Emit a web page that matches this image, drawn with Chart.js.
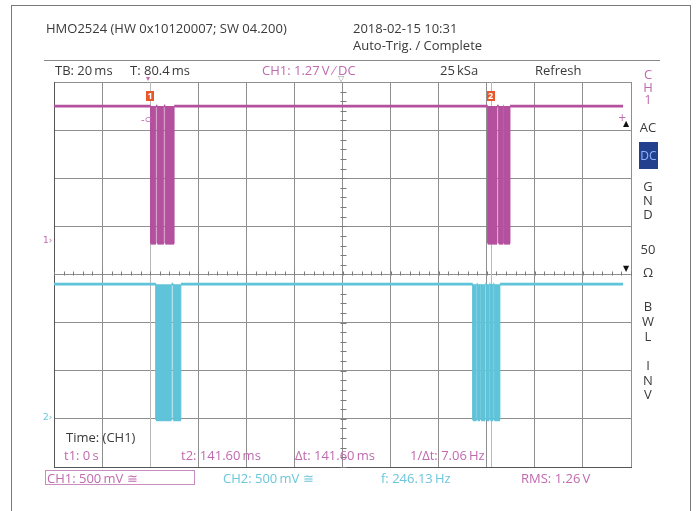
<!DOCTYPE html>
<html>
<head>
<meta charset="utf-8">
<script src="https://cdn.jsdelivr.net/npm/chart.js@4.4.1/dist/chart.umd.min.js"></script>
<style>
    body { margin: 0; background: #fff; font-family: "Open Sans", sans-serif; }
    #wrap { position: relative; width: 698px; height: 511px; overflow: hidden; }
    #frame { position: absolute; left: 11px; top: 5px; width: 680px; height: 530px; border: 1px solid #7a7a7a; box-sizing: border-box; }
    #sep { position: absolute; left: 44px; top: 60px; width: 616px; height: 0; border-top: 1px solid #8a8a8a; }
    #scope { position: absolute; left: 0; top: 0; }
    .t { position: absolute; font-size: 13px; line-height: 14px; color: #3a3a3a; white-space: nowrap; }
    .pink { color: #c06aaf; }
    .cyan { color: #6cc6dc; }
    .side { text-align: center; width: 20px; left: 638px; }
    #dcbox { position: absolute; left: 639px; top: 142px; width: 19px; height: 27px; background: #23408f; color: #8db4ff; font-size: 12px; line-height: 27px; text-align: center; }
    #ch1box { position: absolute; left: 45px; top: 470px; width: 150px; height: 15px; border: 1px solid #c98cbc; box-sizing: border-box; }
    .mark { position: absolute; width: 8px; height: 10px; background: #e8582a; color: #fff; font-size: 9px; line-height: 10px; text-align: center; font-weight: bold; }
    .tiny { position: absolute; font-family: "DejaVu Sans", sans-serif; font-size: 10px; line-height: 10px; white-space: nowrap; }
</style>
</head>
<body>
<div id="wrap">
    <div id="frame"></div>
    <div id="sep"></div>
    <canvas id="scope" width="698" height="511"></canvas>

    <div class="t" style="left:46px;top:21px;">HMO2524 (HW 0x10120007; SW 04.200)</div>
    <div class="t" style="left:353px;top:21px;">2018-02-15 10:31</div>
    <div class="t" style="left:353px;top:38px;">Auto-Trig. / Complete</div>

    <div class="t" style="left:55px;top:63px;">TB: 20&#8201;ms</div>
    <div class="t" style="left:130px;top:63px;">T: 80.4&#8201;ms</div>
    <div class="t pink" style="left:262px;top:63px;">CH1: 1.27&#8201;V &#8260; DC</div>
    <div class="t" style="left:440px;top:63px;">25&#8201;kSa</div>
    <div class="t" style="left:535px;top:63px;">Refresh</div>

    <div class="t pink side" style="top:68px;line-height:12.5px;">C<br>H<br>1</div>
    <div class="t side" style="top:120px;">AC</div>
    <div id="dcbox">DC</div>
    <div class="t side" style="top:179px;">G<br>N<br>D</div>
    <div class="t side" style="top:242px;">50</div>
    <div class="t side" style="top:265px;">&Omega;</div>
    <div class="t side" style="top:299px;line-height:15px;">B<br>W<br>L</div>
    <div class="t side" style="top:358px;line-height:14.5px;">I<br>N<br>V</div>

    <div class="t" style="left:66px;top:430px;">Time: (CH1)</div>
    <div class="t pink" style="left:64px;top:448px;">t1: 0&#8201;s</div>
    <div class="t pink" style="left:181px;top:448px;">t2: 141.60&#8201;ms</div>
    <div class="t pink" style="left:295px;top:448px;">&Delta;t: 141.60&#8201;ms</div>
    <div class="t pink" style="left:410px;top:448px;">1/&Delta;t: 7.06&#8201;Hz</div>

    <div id="ch1box"></div>
    <div class="t pink" style="left:47px;top:471px;">CH1: 500&#8201;mV &cong;</div>
    <div class="t cyan" style="left:223px;top:471px;">CH2: 500&#8201;mV &cong;</div>
    <div class="t cyan" style="left:381px;top:471px;">f: 246.13&#8201;Hz</div>
    <div class="t pink" style="left:521px;top:471px;">RMS: 1.26&#8201;V</div>

    <div class="tiny pink" style="left:43px;top:235px;font-size:9px;">1&#8250;</div>
    <div class="tiny cyan" style="left:43px;top:412px;font-size:9px;">2&#8250;</div>
    <div class="tiny pink" style="left:141px;top:115px;">-&#8834;</div>
    <div class="tiny pink" style="left:618px;top:113px;">+</div>
    <div class="tiny" style="left:623px;top:119px;color:#111;font-size:8px;">&#9650;</div>
    <div class="tiny" style="left:623px;top:264px;color:#111;font-size:8px;">&#9660;</div>
    <div class="tiny" style="left:338px;top:74px;color:#999;font-size:8px;">&#9661;</div>
    <div class="tiny pink" style="left:146px;top:74px;font-size:8px;">&#9662;</div>
    <div class="mark" id="mark1">1</div>
    <div class="mark" id="mark2">2</div>
</div>

<script>
// screen: 12 x 8 divisions, 20 ms/div, t = 0 at cursor 1
const timeLimits = [-40, 200];
const divLimits = [-4, 4];
const traceEnd = 196.7;

// CH1 (levels in divisions, edges in ms)
const ch1High = 3.5;
const ch1Low = 0.65;
const ch1Edges = [0.2, 2.4, 3.0, 5.7, 6.3, 10.0, 140.4, 144.3, 145.0, 146.9, 147.2, 149.7];

// CH2
const ch2High = -0.2;
const ch2Low = -3.02;
const ch2Edges = [2.4, 8.9, 9.6, 12.8, 134.2, 135.8, 136.2, 137.2, 137.6, 139.4, 140.0, 141.1, 141.5, 142.7, 143.1, 145.5];

// cursors t1 / t2
const cursorTimes = [0, 141.6];

const ch1Color = '#b4509e';
const ch2Color = '#5fc3d9';

function stepPoints(edges, high, low) {
    const pts = [{ x: timeLimits[0], y: high }];
    let level = high;
    edges.forEach(t => {
        pts.push({ x: t, y: level });
        level = level === high ? low : high;
        pts.push({ x: t, y: level });
    });
    pts.push({ x: traceEnd, y: level });
    return pts;
}

// thin vertical edges so the gaps in a burst stay visible
const edgeWidth = ctx => ctx.p0.parsed.x === ctx.p1.parsed.x ? 0.8 : 2.8;

const scopeMarks = {
    id: 'scopeMarks',
    beforeDatasetsDraw(chart) {
        const { ctx, chartArea, scales: { x, y } } = chart;
        ctx.save();
        // cursors
        ctx.strokeStyle = '#b8b8b8';
        ctx.lineWidth = 1;
        cursorTimes.forEach(t => {
            const px = Math.round(x.getPixelForValue(t)) + 0.5;
            ctx.beginPath();
            ctx.moveTo(px, chartArea.top);
            ctx.lineTo(px, chartArea.bottom);
            ctx.stroke();
        });
        // minor ticks on centre axes
        ctx.strokeStyle = '#7a7a7a';
        const yc = Math.round(y.getPixelForValue(0)) + 0.5;
        for (let t = timeLimits[0]; t <= timeLimits[1]; t += 4) {
            const px = Math.round(x.getPixelForValue(t)) + 0.5;
            ctx.beginPath();
            ctx.moveTo(px, yc - 4);
            ctx.lineTo(px, yc);
            ctx.stroke();
        }
        const xc = Math.round(x.getPixelForValue(80)) + 0.5;
        for (let d = divLimits[0]; d <= divLimits[1]; d += 0.2) {
            const py = Math.round(y.getPixelForValue(d)) + 0.5;
            ctx.beginPath();
            ctx.moveTo(xc - 3, py);
            ctx.lineTo(xc + 3, py);
            ctx.stroke();
        }
        ctx.restore();
    },
    afterRender(chart) {
        const x = chart.scales.x;
        ['mark1', 'mark2'].forEach((id, i) => {
            const el = document.getElementById(id);
            el.style.left = (x.getPixelForValue(cursorTimes[i]) - 4) + 'px';
            el.style.top = '91px';
        });
    }
};

const ctx = document.getElementById('scope').getContext('2d');
const scopeChart = new Chart(ctx, {
    type: 'line',
    data: {
        datasets: [
            {
                label: 'CH1',
                data: stepPoints(ch1Edges, ch1High, ch1Low),
                borderColor: ch1Color,
                backgroundColor: ch1Color,
                fill: { value: ch1High },
                pointRadius: 0,
                tension: 0,
                segment: { borderWidth: edgeWidth }
            },
            {
                label: 'CH2',
                data: stepPoints(ch2Edges, ch2High, ch2Low),
                borderColor: ch2Color,
                backgroundColor: ch2Color,
                fill: { value: ch2High },
                pointRadius: 0,
                tension: 0,
                segment: { borderWidth: edgeWidth }
            }
        ]
    },
    options: {
        responsive: false,
        animation: false,
        layout: { padding: { left: 54, top: 82, right: 67, bottom: 44 } },
        plugins: { legend: { display: false }, tooltip: { enabled: false } },
        scales: {
            x: {
                type: 'linear',
                min: timeLimits[0],
                max: timeLimits[1],
                ticks: { display: false, stepSize: 20 },
                grid: { color: '#8e8e8e', lineWidth: 1, drawTicks: false },
                border: { color: '#555', width: 1 }
            },
            y: {
                min: divLimits[0],
                max: divLimits[1],
                ticks: { display: false, stepSize: 1 },
                grid: { color: '#8e8e8e', lineWidth: 1, drawTicks: false },
                border: { color: '#555', width: 1 }
            }
        }
    },
    plugins: [scopeMarks]
});
</script>
</body>
</html>
